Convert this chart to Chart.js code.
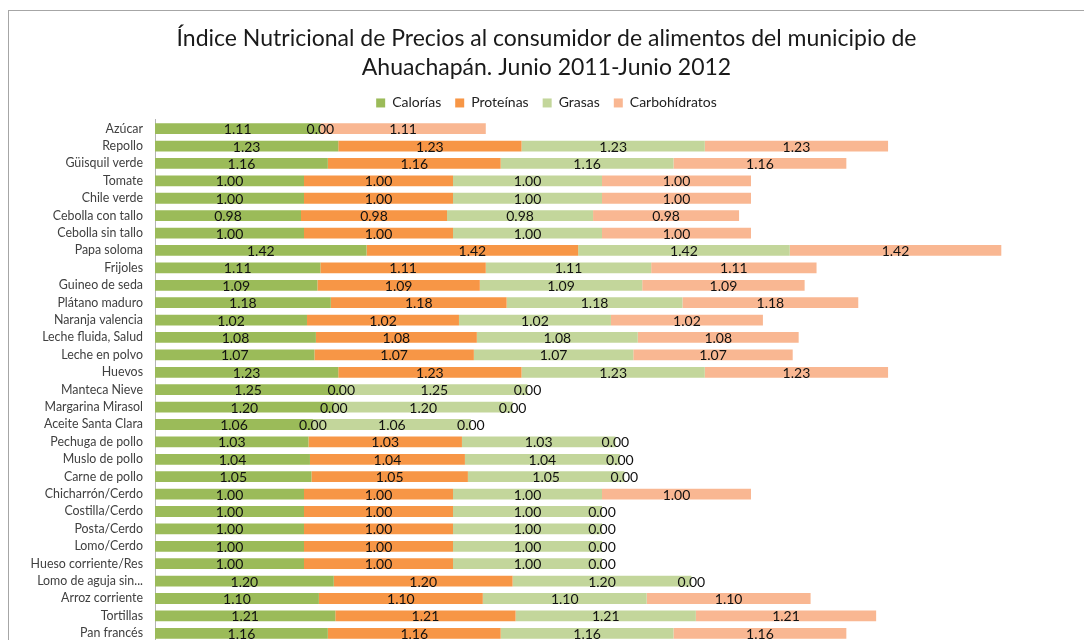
<!DOCTYPE html>
<html>
<head>
<meta charset="utf-8">
<script src="https://cdn.jsdelivr.net/npm/chart.js@4/dist/chart.umd.min.js"></script>
<style>
  html, body { margin: 0; padding: 0; background: #fff; overflow: hidden; }
  #frame {
    position: absolute; left: 8px; top: 10px; width: 1076px; height: 660px;
    border-left: 1px solid #a6a6a6; border-top: 1px solid #a6a6a6;
  }
  #myChart { position: absolute; left: 0; top: 0; }
</style>
</head>
<body>
<div id="frame"><canvas id="myChart" width="1075" height="655"></canvas></div>
<script>
// categories (top to bottom)
const foods = [
  'Azúcar', 'Repollo', 'Güisquil verde', 'Tomate', 'Chile verde',
  'Cebolla con tallo', 'Cebolla sin tallo', 'Papa soloma', 'Frijoles', 'Guineo de seda',
  'Plátano maduro', 'Naranja valencia', 'Leche fluida, Salud', 'Leche en polvo', 'Huevos',
  'Manteca Nieve', 'Margarina Mirasol', 'Aceite Santa Clara', 'Pechuga de pollo', 'Muslo de pollo',
  'Carne de pollo', 'Chicharrón/Cerdo', 'Costilla/Cerdo', 'Posta/Cerdo', 'Lomo/Cerdo',
  'Hueso corriente/Res', 'Lomo de aguja sin...', 'Arroz corriente', 'Tortillas', 'Pan francés'
];

const calorias = [1.11, 1.23, 1.16, 1.00, 1.00, 0.98, 1.00, 1.42, 1.11, 1.09,
  1.18, 1.02, 1.08, 1.07, 1.23, 1.25, 1.20, 1.06, 1.03, 1.04,
  1.05, 1.00, 1.00, 1.00, 1.00, 1.00, 1.20, 1.10, 1.21, 1.16];
const proteinas = [0.00, 1.23, 1.16, 1.00, 1.00, 0.98, 1.00, 1.42, 1.11, 1.09,
  1.18, 1.02, 1.08, 1.07, 1.23, 0.00, 0.00, 0.00, 1.03, 1.04,
  1.05, 1.00, 1.00, 1.00, 1.00, 1.00, 1.20, 1.10, 1.21, 1.16];
const grasas = [null, 1.23, 1.16, 1.00, 1.00, 0.98, 1.00, 1.42, 1.11, 1.09,
  1.18, 1.02, 1.08, 1.07, 1.23, 1.25, 1.20, 1.06, 1.03, 1.04,
  1.05, 1.00, 1.00, 1.00, 1.00, 1.00, 1.20, 1.10, 1.21, 1.16];
const carbohidratos = [1.11, 1.23, 1.16, 1.00, 1.00, 0.98, 1.00, 1.42, 1.11, 1.09,
  1.18, 1.02, 1.08, 1.07, 1.23, 0.00, 0.00, 0.00, 0.00, 0.00,
  0.00, 1.00, 0.00, 0.00, 0.00, 0.00, 0.00, 1.10, 1.21, 1.16];

const titleLines = [
  'Índice Nutricional de Precios al consumidor de alimentos del municipio de',
  'Ahuachapán. Junio 2011-Junio 2012'
];

// draws the value labels centred on every segment (zeros included)
const valueLabels = {
  id: 'valueLabels',
  afterDatasetsDraw(chart) {
    const ctx = chart.ctx;
    ctx.save();
    ctx.font = '14px Lato, "DejaVu Sans", sans-serif';
    ctx.fillStyle = '#111';
    ctx.textAlign = 'center';
    ctx.textBaseline = 'middle';
    chart.data.datasets.forEach((ds, i) => {
      const meta = chart.getDatasetMeta(i);
      meta.data.forEach((bar, j) => {
        const v = ds.data[j];
        if (v === null || v === undefined) return;
        const p = bar.getCenterPoint();
        ctx.fillText(v.toFixed(2), p.x, p.y + 1);
      });
    });
    ctx.restore();
  }
};

const ctx = document.getElementById('myChart').getContext('2d');
const chart = new Chart(ctx, {
  type: 'bar',
  data: {
    labels: foods,
    datasets: [
      { label: 'Calorías', data: calorias, backgroundColor: '#9bbb59' },
      { label: 'Proteínas', data: proteinas, backgroundColor: '#f79646' },
      { label: 'Grasas', data: grasas, backgroundColor: '#c3d69b' },
      { label: 'Carbohídratos', data: carbohidratos, backgroundColor: '#f9b792' }
    ]
  },
  options: {
    indexAxis: 'y',
    responsive: false,
    animation: false,
    layout: { padding: { left: 0, right: 0, top: 0, bottom: 24 } },
    datasets: { bar: { barPercentage: 0.62, categoryPercentage: 1.0 } },
    scales: {
      x: { stacked: true, display: false, min: 0, max: 6.235 },
      y: {
        stacked: true,
        grid: { display: false, drawTicks: false },
        border: { display: true, color: '#b4b4b4' },
        ticks: { padding: 12, autoSkip: false, color: '#404040',
                 font: { family: 'Lato, "DejaVu Sans", sans-serif', size: 12.4 } },
        afterFit(scale) { scale.width = 146; }
      }
    },
    plugins: {
      title: {
        display: true,
        text: titleLines,
        color: '#1a1a1a',
        font: { family: 'Lato, sans-serif', size: 23, weight: 'normal', lineHeight: 1.26 },
        padding: { top: 13, bottom: 0 }
      },
      legend: {
        display: true,
        labels: {
          boxWidth: 9, boxHeight: 9, padding: 14, color: '#222',
          font: { family: 'Lato, "DejaVu Sans", sans-serif', size: 14 }
        }
      },
      tooltip: { enabled: false }
    }
  },
  plugins: [valueLabels]
});
</script>
</body>
</html>
